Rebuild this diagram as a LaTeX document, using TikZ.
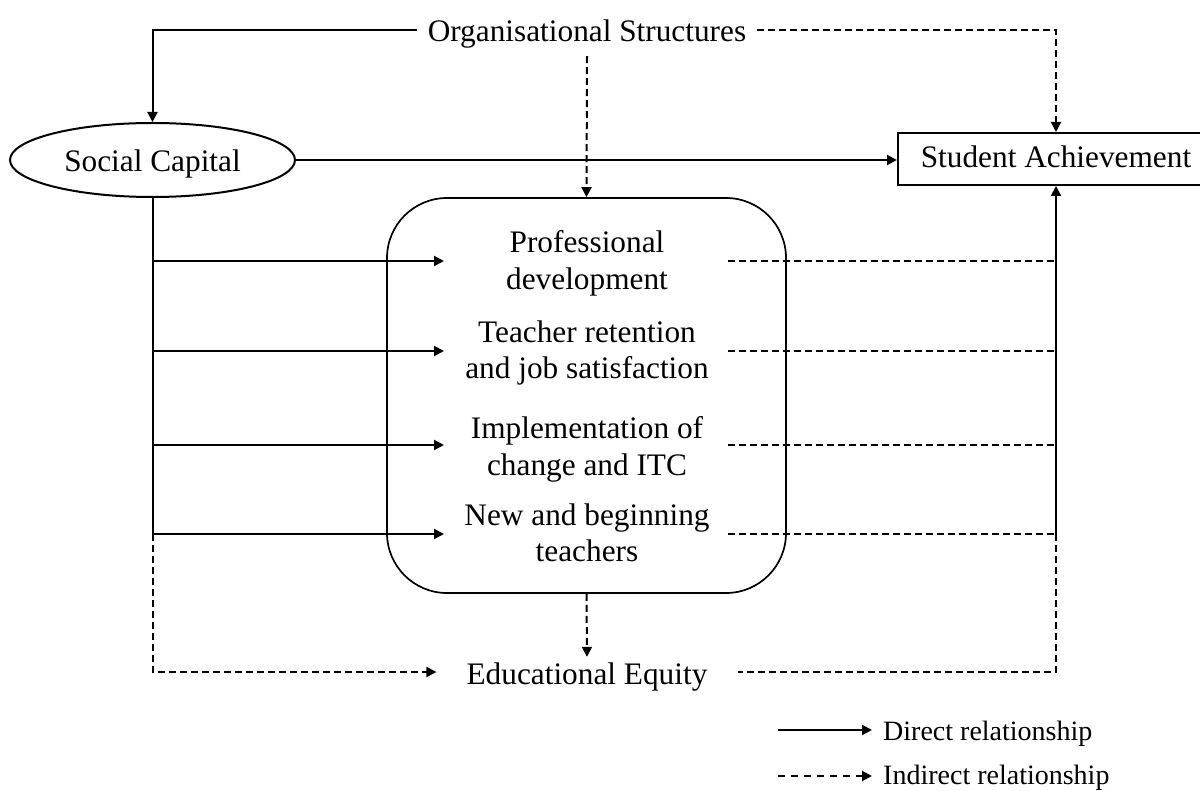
\documentclass[tikz,border=0pt]{standalone}
\usepackage{fontspec}
\setmainfont{Liberation Serif}
\usetikzlibrary{arrows.meta,shapes.geometric,calc}
\begin{document}
\begin{tikzpicture}[x=1pt,y=-1pt,
  every node/.style={font=\fontsize{31.3}{36.3}\selectfont},
  lab/.style={text height=24pt,text depth=0pt,inner xsep=11pt,inner ysep=3pt},
  item/.style={align=center,anchor=north,inner sep=0pt},
  tip/.style={-{Triangle[length=10pt,width=10pt]}},
  direct/.style={line width=2pt,tip},
  indirect/.style={line width=2pt,dash pattern=on 7pt off 4pt,tip},
  dline/.style={line width=2pt,dash pattern=on 7pt off 4pt},
  legend/.style={font=\fontsize{28}{32}\selectfont,anchor=base west,inner sep=0pt}
]
\useasboundingbox (0,0) rectangle (1200,791);

% main concepts
\node[lab,inner ysep=14pt] (org) at (587,30) {Organisational Structures};
\node[draw,ellipse,line width=2pt,minimum width=285pt,minimum height=74pt,
      inner sep=0pt,text height=24pt,text depth=0pt] (sc) at (152.5,160) {Social Capital};
\node[draw,line width=2pt,minimum width=316pt,minimum height=52pt,inner sep=0pt,
      text height=20pt,text depth=2pt] (sa) at (1056,159) {Student Achievement};
\node[lab,inner xsep=30pt] (eq) at (587,672) {Educational Equity};

% mediating outcomes
\node[draw,line width=1.7pt,rounded corners=60pt,minimum width=399pt,minimum height=395pt]
  (mid) at (586.5,395.5) {};
\node[item] (pd) at (587,230.6) {Professional\\development};
\node[item] (tr) at (587,320.6) {Teacher retention\\and job satisfaction};
\node[item] (ic) at (587,416.6) {Implementation of\\change and ITC};
\node[item] (nb) at (587,503.6) {New and beginning\\teachers};

% arrow ends on the left, line starts on the right of the box
\coordinate (in1) at (444,261);
\coordinate (in2) at (444,351);
\coordinate (in3) at (444,445);
\coordinate (in4) at (444,534);
\coordinate (out1) at (728,261);
\coordinate (out2) at (728,351);
\coordinate (out3) at (728,445);
\coordinate (out4) at (728,534);

% connectors
\draw[direct] (org.west) -| (sc.north);
\draw[indirect] (org.east) -| (sa.north);
\draw[indirect] (org.south) -- (mid.north);
\draw[direct] (sc.east) -- (sc.east -| sa.west);
\foreach \i in {1,...,4} {
  \draw[direct] (sc.south) |- (in\i);
  \draw[dline] (out\i) -- (out\i -| sa.south);
}
\draw[direct] (out4 -| sa.south) -- (sa.south);
\draw[indirect] (sc.south |- in4) |- (eq.west);
\draw[dline] (out4 -| sa.south) |- (eq.east);
\draw[indirect] (mid.south) -- (eq.north);

% legend
\coordinate (ls1) at (778,730);
\coordinate (le1) at (872,730);
\coordinate (ls2) at (778,776);
\coordinate (le2) at (872,776);
\draw[direct] (ls1) -- (le1);
\draw[indirect,dash pattern=on 7pt off 6pt] (ls2) -- (le2);
\node[legend] (ldir) at (883,740) {Direct relationship};
\node[legend] (lind) at (883,784) {Indirect relationship};
\end{tikzpicture}
\end{document}
